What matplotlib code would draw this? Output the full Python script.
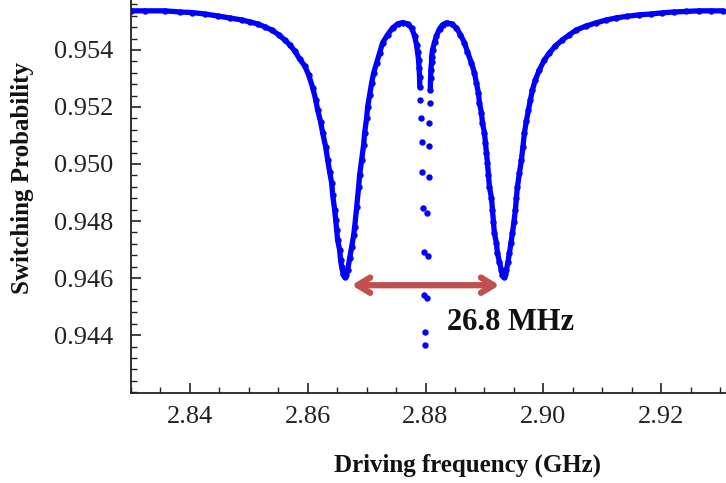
import matplotlib
matplotlib.use("Agg")
import matplotlib.pyplot as plt
from matplotlib.ticker import MultipleLocator, FormatStrFormatter

plt.rcParams['font.family'] = ['Liberation Serif', 'DejaVu Serif']

# Switching probability vs driving frequency (GHz)
freq_left = [2.83000, 2.83237, 2.83576, 2.83831, 2.84034, 2.84254, 2.84475, 2.84678,
             2.84881, 2.85017, 2.85153, 2.85271, 2.85390, 2.85508, 2.85610, 2.85695,
             2.85780, 2.85864, 2.85949, 2.86017, 2.86085, 2.86136, 2.86169, 2.86220,
             2.86254, 2.86305, 2.86339, 2.86373, 2.86407, 2.86424, 2.86458, 2.86475,
             2.86492, 2.86508, 2.86542, 2.86559, 2.86576, 2.86602, 2.86627, 2.86653,
             2.86678, 2.86712, 2.86746, 2.86780, 2.86797, 2.86831, 2.86864, 2.86881,
             2.86915, 2.86949, 2.86966, 2.87000, 2.87017, 2.87051, 2.87085, 2.87119,
             2.87169, 2.87220, 2.87271, 2.87356, 2.87441, 2.87525, 2.87610, 2.87695,
             2.87763, 2.87814, 2.87847, 2.87864, 2.87881, 2.87890, 2.87898, 2.87903]
prob_left = [0.95537, 0.95537, 0.95537, 0.95533, 0.95531, 0.95526, 0.95519, 0.95512,
             0.95505, 0.95498, 0.95491, 0.95481, 0.95470, 0.95453, 0.95435, 0.95418,
             0.95396, 0.95368, 0.95344, 0.95312, 0.95267, 0.95225, 0.95189, 0.95147,
             0.95109, 0.95060, 0.95014, 0.94972, 0.94933, 0.94891, 0.94839, 0.94803,
             0.94768, 0.94733, 0.94698, 0.94663, 0.94639, 0.94614, 0.94603, 0.94610,
             0.94628, 0.94670, 0.94709, 0.94751, 0.94779, 0.94849, 0.94919, 0.94961,
             0.95014, 0.95067, 0.95109, 0.95161, 0.95200, 0.95242, 0.95284, 0.95319,
             0.95354, 0.95389, 0.95425, 0.95453, 0.95477, 0.95491, 0.95496, 0.95491,
             0.95477, 0.95449, 0.95418, 0.95393, 0.95365, 0.95337, 0.95305, 0.95270]

freq_center = [2.87898, 2.87927, 2.87944, 2.87944, 2.87954, 2.87966, 2.87966, 2.87983,
               2.87983, 2.88022, 2.88039, 2.88022, 2.88056, 2.88056, 2.88056, 2.88080]
prob_center = [0.95225, 0.95161, 0.95077, 0.94972, 0.94846, 0.94691, 0.94540, 0.94410,
               0.94365, 0.94530, 0.94677, 0.94828, 0.94954, 0.95063, 0.95144, 0.95214]

freq_right = [2.88080, 2.88085, 2.88090, 2.88102, 2.88102, 2.88119, 2.88153, 2.88186,
              2.88237, 2.88288, 2.88356, 2.88441, 2.88525, 2.88593, 2.88661, 2.88712,
              2.88780, 2.88831, 2.88864, 2.88898, 2.88915, 2.88949, 2.88966, 2.89000,
              2.89017, 2.89034, 2.89051, 2.89068, 2.89085, 2.89119, 2.89136, 2.89153,
              2.89169, 2.89203, 2.89220, 2.89254, 2.89288, 2.89305, 2.89331, 2.89356,
              2.89373, 2.89398, 2.89424, 2.89449, 2.89475, 2.89500, 2.89525, 2.89542,
              2.89559, 2.89593, 2.89627, 2.89653, 2.89678, 2.89712, 2.89746, 2.89780,
              2.89814, 2.89864, 2.89932, 2.90017, 2.90102, 2.90203, 2.90322, 2.90441,
              2.90559, 2.90729, 2.90898, 2.91068, 2.91237, 2.91424, 2.91627, 2.91831,
              2.92017, 2.92220, 2.92424, 2.92644, 2.92847, 2.93051]
prob_right = [0.95260, 0.95302, 0.95330, 0.95358, 0.95375, 0.95400, 0.95428, 0.95449,
              0.95474, 0.95488, 0.95495, 0.95491, 0.95477, 0.95453, 0.95425, 0.95393,
              0.95354, 0.95319, 0.95284, 0.95249, 0.95214, 0.95179, 0.95144, 0.95109,
              0.95074, 0.95039, 0.95004, 0.94961, 0.94919, 0.94881, 0.94839, 0.94796,
              0.94758, 0.94723, 0.94688, 0.94656, 0.94628, 0.94610, 0.94603, 0.94614,
              0.94628, 0.94656, 0.94688, 0.94723, 0.94758, 0.94796, 0.94839, 0.94881,
              0.94919, 0.94968, 0.95014, 0.95060, 0.95109, 0.95151, 0.95189, 0.95225,
              0.95260, 0.95295, 0.95330, 0.95365, 0.95389, 0.95414, 0.95435, 0.95453,
              0.95470, 0.95484, 0.95495, 0.95505, 0.95512, 0.95518, 0.95523, 0.95526,
              0.95530, 0.95533, 0.95535, 0.95537, 0.95537, 0.95537]

x_ticks = [2.84, 2.86, 2.88, 2.90, 2.92]
y_ticks = [0.944, 0.946, 0.948, 0.950, 0.952, 0.954]
arrow_ends = [2.86746, 2.89254]
arrow_level = 0.94575
splitting_label = "26.8 MHz"

fig = plt.figure(figsize=(7.26, 4.83), dpi=100)
ax = fig.add_axes([0.1804, 0.1863, 0.8196, 0.8137])

blue = '#0000FF'
for fx, py in ((freq_left, prob_left), (freq_right, prob_right)):
    ax.plot(fx, py, '-', color=blue, lw=3.8, solid_capstyle='round', zorder=2)
    ax.plot(fx, py, 'o', color=blue, ms=4.6, mew=0, zorder=3)
ax.plot(freq_center, prob_center, 'o', color=blue, ms=4.6, mew=0, zorder=3)

ax.set_xlim(2.83, 2.931)
ax.set_ylim(0.94197, 0.95575)

ax.set_xticks(x_ticks)
ax.set_yticks(y_ticks)
ax.xaxis.set_minor_locator(MultipleLocator(0.005))
ax.yaxis.set_minor_locator(MultipleLocator(0.0004))
ax.xaxis.set_major_formatter(FormatStrFormatter('%.2f'))
ax.yaxis.set_major_formatter(FormatStrFormatter('%.3f'))

for s in ('top', 'right'):
    ax.spines[s].set_visible(False)
for s in ('left', 'bottom'):
    ax.spines[s].set_linewidth(1.3)
    ax.spines[s].set_color('#222222')

ax.tick_params(which='major', direction='in', length=7, width=1.2, color='#222222',
               labelsize=19, labelcolor='#222222')
ax.tick_params(which='minor', direction='in', length=4, width=1.0, color='#222222')
ax.tick_params(axis='x', pad=9)
ax.tick_params(axis='y', pad=13)

ax.set_xlabel('Driving frequency (GHz)', fontsize=18, fontweight='bold', color='#111111')
ax.set_ylabel('Switching Probability', fontsize=18, fontweight='bold', color='#111111')
ax.xaxis.set_label_coords(0.566, -0.155)
ax.yaxis.set_label_coords(-0.163, 0.547)

ax.annotate('', xy=(arrow_ends[0], arrow_level), xytext=(arrow_ends[1], arrow_level),
            arrowprops=dict(arrowstyle='<->,head_length=0.9,head_width=0.55',
                            color='#C0504D', lw=4.5, shrinkA=0, shrinkB=0))
ax.text(2.88356, 0.94446, splitting_label, fontsize=22, fontweight='bold',
        ha='left', va='center', color='#111111')

fig.savefig('out.png', dpi=100)
